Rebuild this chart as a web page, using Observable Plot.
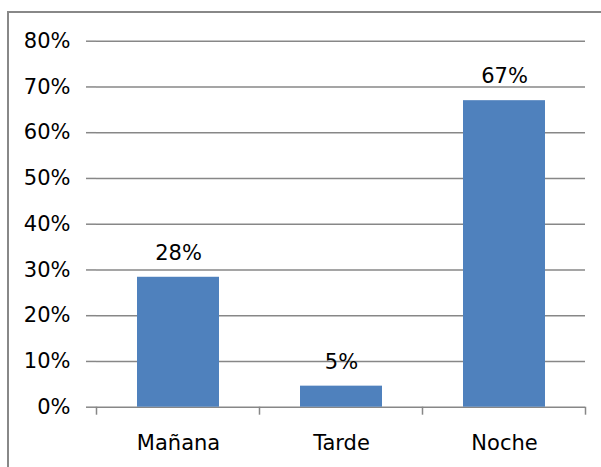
<!DOCTYPE html>
<html>
<head>
<meta charset="utf-8">
<script src="https://cdn.jsdelivr.net/npm/d3@7"></script>
<script src="https://cdn.jsdelivr.net/npm/@observablehq/plot@0.6"></script>
<style>
  html, body { margin: 0; padding: 0; background: #fff; }
  #wrap { position: relative; width: 601px; height: 467px; overflow: hidden; }
  #border { position: absolute; left: 7px; top: 11px; width: 700px; height: 600px; border: 2px solid #888; box-sizing: border-box; pointer-events: none; }
  #chart { position: absolute; left: 0; top: 0; }
</style>
</head>
<body>
<div id="wrap">
  <div id="border"></div>
  <div id="chart"></div>
</div>
<script>
const categories = ["Mañana", "Tarde", "Noche"];
const values = [0.284, 0.046, 0.67];
const yTicks = [0, 0.1, 0.2, 0.3, 0.4, 0.5, 0.6, 0.7, 0.8];

const data = categories.map((c, i) => ({category: c, value: values[i]}));
const pct = d3.format(".0%");
const gray = "#878787";
const barColor = "#4F81BD";
const FS = 21;

// ticks at band boundaries, positioned via the x scale
const boundaryTicks = (index, scales, values, dims) => {
  const x = scales.x;
  const step = x.step();
  const bw = x.bandwidth();
  const y0 = scales.y(0);
  const pos = categories.map(c => x(c) - (step - bw) / 2);
  pos.push(x(categories[categories.length - 1]) + bw + (step - bw) / 2);
  const g = d3.create("svg:g");
  for (const p of pos) {
    g.append("line")
      .attr("x1", p).attr("x2", p)
      .attr("y1", y0).attr("y2", y0 + 8)
      .attr("stroke", gray).attr("stroke-width", 1.5);
  }
  return g.node();
};

const chart = Plot.plot({
  width: 601,
  height: 467,
  marginLeft: 96,
  marginRight: 16,
  marginTop: 40.7,
  marginBottom: 60.3,
  style: {fontFamily: "'DejaVu Sans', sans-serif", fontSize: FS + "px", color: "#000", background: "transparent", overflow: "visible"},
  x: {domain: categories, paddingInner: 0.5, paddingOuter: 0.25, label: null},
  y: {domain: [0, 0.8], label: null},
  marks: [
    Plot.gridY(yTicks, {stroke: gray, strokeOpacity: 1, strokeWidth: 1.5}),
    Plot.axisY(yTicks, {tickFormat: pct, tickSize: 10, tickPadding: 16, stroke: gray, strokeWidth: 1.5, fontSize: FS, fill: "#000", label: null}),
    Plot.ruleX([0], {x: () => 0, stroke: gray, strokeWidth: 1.5, frameAnchor: "left"}),
    Plot.barY(data, {x: "category", y: "value", fill: barColor}),
    Plot.text(data, {x: "category", y: "value", text: d => pct(d.value), dy: -24, fontSize: FS, fill: "#000"}),
    Plot.axisX({tickSize: 0, tickPadding: 28, fontSize: FS, fill: "#000", label: null}),
    boundaryTicks
  ]
});

document.getElementById("chart").appendChild(chart);
</script>
</body>
</html>
